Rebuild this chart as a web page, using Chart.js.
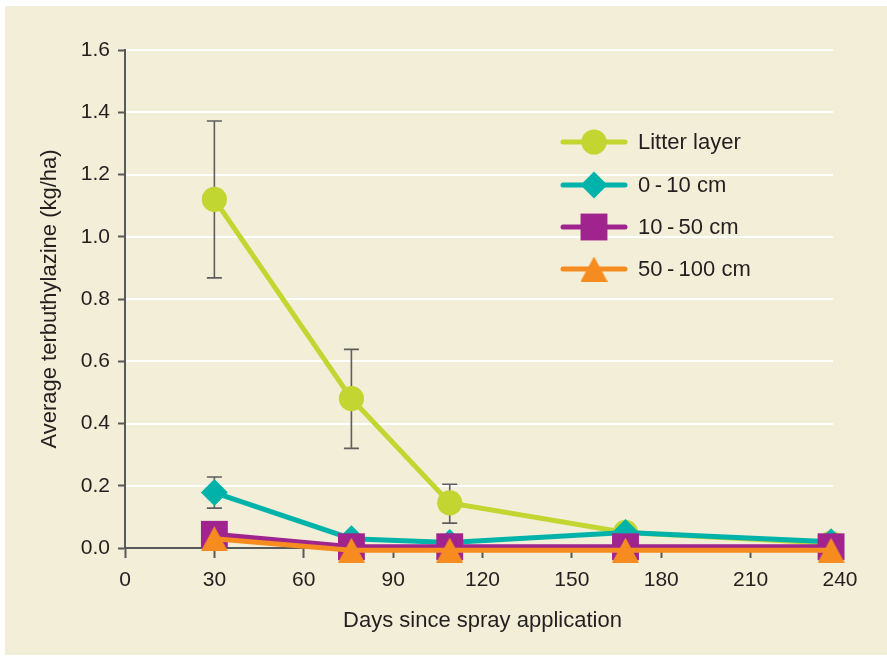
<!DOCTYPE html>
<html>
<head>
<meta charset="utf-8">
<script src="https://cdn.jsdelivr.net/npm/chart.js@4.4.1/dist/chart.umd.min.js"></script>
<style>
  html, body { margin: 0; padding: 0; background: #fff; }
  #panel { position: absolute; left: 5px; top: 6px; width: 882px; height: 649px; background: #f2eed7; }
  canvas { display: block; }
</style>
</head>
<body>
<div id="panel"><canvas id="chart" width="882" height="649"></canvas></div>
<script>
// values
const days = [30, 76, 109, 168, 237];
const seriesLabels = ['Litter layer', '0\u2009-\u200910 cm', '10\u2009-\u200950 cm', '50\u2009-\u2009100 cm'];
const litter = [1.12, 0.48, 0.145, 0.05, 0.015];
const litterHigh = [1.372, 0.638, 0.205, null, null];
const litterLow = [0.868, 0.32, 0.08, null, null];
const topsoil = [0.178, 0.03, 0.018, 0.05, 0.02];
const topsoilHigh = [0.228, null, null, null, null];
const topsoilLow = [0.128, null, null, null, null];
const subsoil = [0.044, 0.004, 0.004, 0.004, 0.004];
const deep = [0.03, -0.007, -0.007, -0.007, -0.007];
const xTicks = [0, 30, 60, 90, 120, 150, 180, 210, 240];
const yTicks = [0, 0.2, 0.4, 0.6, 0.8, 1.0, 1.2, 1.4, 1.6];

const COLORS = ['#c1d631', '#00b3aa', '#a0248e', '#f68c20'];
const FONT = '"Liberation Sans", Arial, sans-serif';
const INK = '#231f20';
const AXIS = '#595959';

// bbox-centred triangle (Chart.js' own triangle sits on its circumcentre)
function triangleImage(color, w, h) {
  const c = document.createElement('canvas');
  c.width = w; c.height = h;
  const g = c.getContext('2d');
  g.fillStyle = color;
  g.beginPath();
  g.moveTo(w / 2, 0);
  g.lineTo(w, h);
  g.lineTo(0, h);
  g.closePath();
  g.fill();
  return c;
}
const triImg = triangleImage(COLORS[3], 27, 25);

const markerStyles = ['circle', 'rectRot', 'rect', triImg];
const markerRadius = [12.6, 13.5, 19, 14];

function drawMarker(ctx, i, x, y) {
  const r = markerRadius[i];
  ctx.fillStyle = COLORS[i];
  ctx.beginPath();
  if (i === 0) {
    ctx.arc(x, y, r, 0, Math.PI * 2);
  } else if (i === 1) {
    ctx.moveTo(x, y - r); ctx.lineTo(x + r, y); ctx.lineTo(x, y + r); ctx.lineTo(x - r, y);
  } else if (i === 2) {
    const s = r * Math.SQRT1_2;
    ctx.rect(x - s, y - s, 2 * s, 2 * s);
  } else {
    ctx.drawImage(triImg, x - triImg.width / 2, y - triImg.height / 2);
    return;
  }
  ctx.closePath();
  ctx.fill();
}

const errorSets = [
  { hi: litterHigh, lo: litterLow },
  { hi: topsoilHigh, lo: topsoilLow },
];

// white horizontal grid stops a little short of the right edge, as in the figure
const gridLines = {
  id: 'gridLines',
  beforeDatasetsDraw(chart) {
    const { ctx, chartArea, scales: { y } } = chart;
    ctx.save();
    ctx.strokeStyle = '#ffffff';
    ctx.lineWidth = 2;
    yTicks.forEach((v) => {
      if (v === 0) return;
      const py = Math.round(y.getPixelForValue(v));
      ctx.beginPath();
      ctx.moveTo(chartArea.left + 1, py);
      ctx.lineTo(chartArea.right - 7, py);
      ctx.stroke();
    });
    ctx.restore();
  },
};

const errorBars = {
  id: 'errorBars',
  beforeDatasetsDraw(chart) {
    const { ctx, scales: { x, y } } = chart;
    ctx.save();
    ctx.strokeStyle = '#5e5e5e';
    ctx.lineWidth = 1.6;
    errorSets.forEach(({ hi, lo }) => {
      days.forEach((d, i) => {
        if (hi[i] == null) return;
        const px = x.getPixelForValue(d);
        const top = y.getPixelForValue(hi[i]);
        const bot = y.getPixelForValue(lo[i]);
        ctx.beginPath();
        ctx.moveTo(px, top); ctx.lineTo(px, bot);
        ctx.moveTo(px - 7.5, top); ctx.lineTo(px + 7.5, top);
        ctx.moveTo(px - 7.5, bot); ctx.lineTo(px + 7.5, bot);
        ctx.stroke();
      });
    });
    ctx.restore();
  },
};

const lineLegend = {
  id: 'lineLegend',
  afterDraw(chart) {
    const { ctx } = chart;
    const rows = [136, 179, 221, 263];
    ctx.save();
    ctx.font = '22px ' + FONT;
    ctx.textBaseline = 'middle';
    ctx.textAlign = 'left';
    chart.data.datasets.forEach((ds, i) => {
      const y = rows[i];
      ctx.strokeStyle = COLORS[i];
      ctx.lineWidth = 5;
      ctx.lineCap = 'round';
      ctx.beginPath();
      ctx.moveTo(558, y); ctx.lineTo(620, y);
      ctx.stroke();
      drawMarker(ctx, i, 589, y);
      ctx.fillStyle = INK;
      ctx.fillText(ds.label, 633, y + 1);
    });
    ctx.restore();
  },
};

const datasets = [litter, topsoil, subsoil, deep].map((vals, i) => ({
  label: seriesLabels[i],
  data: days.map((d, j) => ({ x: d, y: vals[j] })),
  borderColor: COLORS[i],
  backgroundColor: COLORS[i],
  borderWidth: 5,
  pointStyle: markerStyles[i],
  pointRadius: markerRadius[i],
  pointBorderWidth: 0,
  pointBackgroundColor: COLORS[i],
  pointHoverRadius: markerRadius[i],
  order: 3 - i,
  clip: false,
}));

new Chart(document.getElementById('chart'), {
  type: 'line',
  data: { datasets },
  plugins: [gridLines, errorBars, lineLegend],
  options: {
    responsive: false,
    animation: false,
    layout: { padding: { left: 0, top: 44, right: 47, bottom: 0 } },
    plugins: { legend: { display: false }, tooltip: { enabled: false } },
    scales: {
      x: {
        type: 'linear',
        min: 0,
        max: 240,
        afterBuildTicks: (s) => { s.ticks = xTicks.map((v) => ({ value: v })); },
        afterFit: (s) => { s.height = 107; },
        grid: { display: true, drawOnChartArea: false, tickLength: 10, tickColor: AXIS, tickWidth: 2 },
        border: { display: true, color: AXIS, width: 2 },
        ticks: { color: INK, font: { family: FONT, size: 21 }, padding: 10, maxRotation: 0 },
        title: {
          display: true,
          text: 'Days since spray application',
          color: INK,
          font: { family: FONT, size: 22 },
          padding: { top: 0, bottom: 21 },
        },
      },
      y: {
        min: 0,
        max: 1.6,
        afterBuildTicks: (s) => { s.ticks = yTicks.map((v) => ({ value: v })); },
        afterFit: (s) => { s.width = 120; },
        grid: {
          drawOnChartArea: false,
          tickLength: 7,
          tickColor: AXIS,
          tickWidth: 2,
        },
        border: { display: true, color: AXIS, width: 2 },
        ticks: {
          color: INK,
          font: { family: FONT, size: 21 },
          padding: 8,
          callback: (v) => v.toFixed(1),
        },
        title: {
          display: true,
          text: 'Average terbuthylazine (kg/ha)',
          color: INK,
          font: { family: FONT, size: 22 },
          padding: { top: 32, bottom: 0 },
        },
      },
    },
  },
});
</script>
</body>
</html>
